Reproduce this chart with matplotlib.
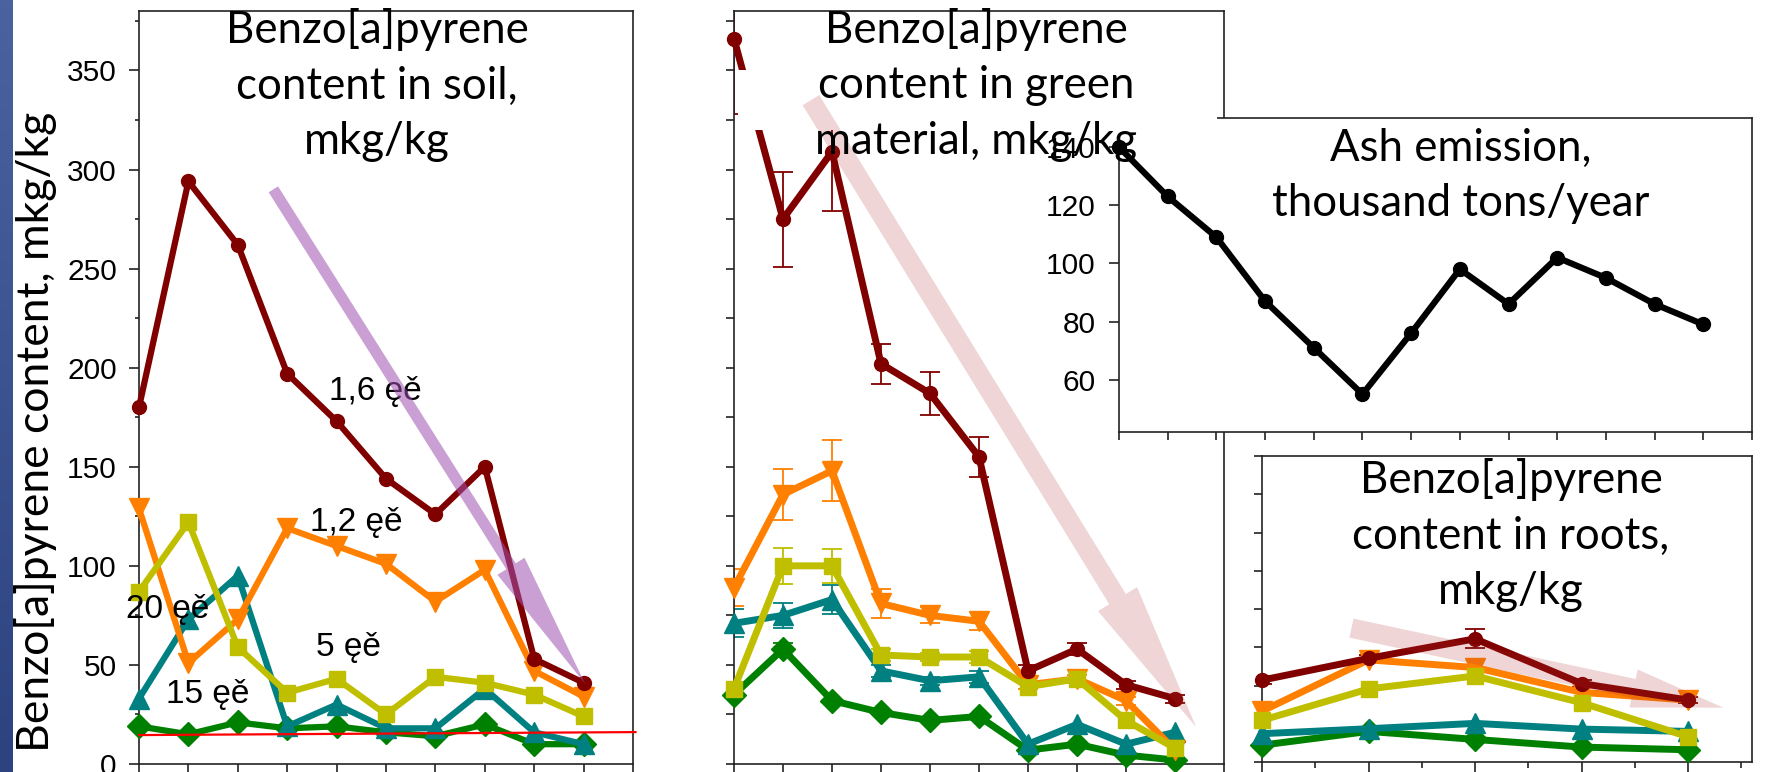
import numpy as np
import matplotlib
matplotlib.use("Agg")
import matplotlib.pyplot as plt
from matplotlib.patches import FancyArrowPatch, Rectangle, ArrowStyle
from matplotlib.ticker import MultipleLocator, NullFormatter
from matplotlib.colors import LinearSegmentedColormap

plt.rcParams['font.family'] = ['Liberation Sans', 'DejaVu Sans']
TITLE_FONT = ['Lato', 'DejaVu Sans']

W, H = 1767, 772  # output size in pixels

# ---------------- data ----------------
# soil, mkg/kg, 10 sampling points
soil_x = list(range(10))
soil_16 = [180, 294, 262, 197, 173, 144, 126, 150, 53, 41]   # dark red
soil_12 = [129, 51, 73, 119, 110, 101, 82, 98, 47, 34]       # orange
soil_20 = [87, 122, 59, 36, 43, 25, 44, 41, 35, 24]          # yellow
soil_5 = [33, 73, 95, 19, 30, 18, 18, 38, 16, 10]            # teal
soil_15 = [19, 15, 21, 18, 19, 16, 14, 20, 10, 10]           # green
soil_limit = [14.6, 16.1]                                    # red reference line
soil_labels = ["1,6 ęě", "1,2 ęě", "20 ęě", "5 ęě", "15 ęě"]
soil_label_pos = [(4.78, 188), (4.4, 122), (0.57, 78), (4.24, 59), (1.39, 35)]

# green material, mkg/kg
green_x = list(range(10))
green_16 = [366, 275, 309, 202, 187, 155, 47, 58, 40, 33]
green_12 = [89, 136, 148, 81, 75, 72, 40, 43, 32, 7]
green_20 = [38, 100, 100, 55, 54, 54, 39, 43, 22, 8]
green_5 = [71, 75, 83, 47, 42, 44, 10, 20, 10, 16]
green_15 = [35, 58, 32, 26, 22, 24, 7, 10, 4.5, 2]
green_16_err = [38, 24, 30, 10, 11, 10, 3, 3, 2, 2]
green_12_err = [9.5, 13, 15.5, 7.5, 4, 4.5, 2, 2, 2, 0]
green_20_err = [0, 9, 8.5, 3, 2, 3, 0, 0, 0, 0]
green_5_err = [7, 6.5, 7.5, 3, 2, 3, 0, 0, 0, 0]
green_15_err = [0, 3, 0, 0, 0, 0, 0, 0, 0, 0]

# roots, mkg/kg
roots_x = [0, 1, 2, 3, 4]
roots_16 = [21.4, 27.1, 32.2, 20.5, 16.2]
roots_12 = [13.3, 26.7, 24.7, 18.2, 16.2]
roots_20 = [10.9, 19.1, 22.5, 15.5, 6.6]
roots_5 = [7.4, 8.7, 10.1, 8.6, 8.0]
roots_15 = [4.4, 8.0, 5.9, 3.9, 3.2]
roots_16_err = [1.0, 0.8, 2.5, 1.0, 0.8]

# ash emission, thousand tons/year
ash_x = list(range(13))
ash = [140, 123, 109, 87, 71, 55, 76, 98, 86, 102, 95, 86, 79]

titles = ["Benzo[a]pyrene\ncontent in soil,\nmkg/kg",
          "Benzo[a]pyrene\ncontent in green\nmaterial, mkg/kg",
          "Ash emission,\nthousand tons/year",
          "Benzo[a]pyrene\ncontent in roots,\nmkg/kg"]
ylabel = "Benzo[a]pyrene content, mkg/kg"

# series styles (bottom to top drawing order)
order = ["15", "5", "12", "20", "16"]
colors = {"16": "#800000", "12": "#FF8000", "20": "#BFBF00", "5": "#008080", "15": "#008000"}
markers = {"16": "o", "12": "v", "20": "s", "5": "^", "15": "D"}
msize = {"16": 10, "12": 14, "20": 12, "5": 14, "15": 12}


def px_box(l, t, r, b):
    return [l / W, (H - b) / H, (r - l) / W, (b - t) / H]


def style_axis(ax):
    for s in ax.spines.values():
        s.set_linewidth(1.2)
        s.set_color("#222222")
    ax.tick_params(which="both", direction="out", width=1.2, color="#222222")


def trend_arrow(ax, p0, p1, color, alpha, tail, head_w, head_l):
    st = ArrowStyle.Simple(head_length=head_l, head_width=head_w, tail_width=tail)
    a = FancyArrowPatch(p0, p1, arrowstyle=st, color=color, alpha=alpha, lw=0,
                        shrinkA=0, shrinkB=0, mutation_scale=1, zorder=6, clip_on=False)
    ax.add_patch(a)


def draw_series(ax, x, data, errs, lw):
    for k in order:
        ax.plot(x, data[k], color=colors[k], marker=markers[k], ms=msize[k],
                lw=lw, zorder=3, clip_on=False)
        e = errs.get(k)
        if e is not None:
            e = np.array(e, dtype=float)
            m = e > 0
            ax.errorbar(np.array(x)[m], np.array(data[k])[m], yerr=e[m], fmt="none",
                        ecolor=colors[k], elinewidth=1.3, capsize=7, capthick=1.3,
                        zorder=2.5)


fig = plt.figure(figsize=(W / 100, H / 100), dpi=100)

# blue slide stripe on the left
ax_b = fig.add_axes([0, 0, 12 / W, 1])
ax_b.imshow(np.linspace(0, 1, 100).reshape(-1, 1), aspect="auto",
            cmap=LinearSegmentedColormap.from_list("st", ["#4A63A0", "#2C4380"]))
ax_b.axis("off")

# ---------------- soil ----------------
ax_s = fig.add_axes(px_box(139, 11, 633, 764), zorder=0)
soil = {"16": soil_16, "12": soil_12, "20": soil_20, "5": soil_5, "15": soil_15}
draw_series(ax_s, soil_x, soil, {}, 4.5)
ax_s.plot([0, 10.05], soil_limit, color="#FF0000", lw=1.6, zorder=4, clip_on=False)
ax_s.set_xlim(0, 10)
ax_s.set_ylim(0, 380)
ax_s.yaxis.set_major_locator(MultipleLocator(50))
ax_s.yaxis.set_minor_locator(MultipleLocator(25))
ax_s.xaxis.set_major_locator(MultipleLocator(1))
ax_s.xaxis.set_major_formatter(NullFormatter())
style_axis(ax_s)
ax_s.tick_params(axis="y", which="major", length=7, labelsize=21.5, pad=9)
ax_s.tick_params(axis="y", which="minor", length=3)
ax_s.tick_params(axis="x", length=5.5)
for lab, (lx, ly) in zip(soil_labels, soil_label_pos):
    ax_s.text(lx, ly, lab, fontsize=24, ha="center", va="center", zorder=5)
trend_arrow(ax_s, (2.72, 290), (9.03, 40.5), "#A050B0", 0.55, 8, 23, 100)

# ---------------- green material ----------------
ax_g = fig.add_axes(px_box(734, 11, 1224, 764), zorder=0.1)
green = {"16": green_16, "12": green_12, "20": green_20, "5": green_5, "15": green_15}
green_err = {"16": green_16_err, "12": green_12_err, "20": green_20_err,
             "5": green_5_err, "15": green_15_err}
draw_series(ax_g, green_x, green, green_err, 5)
ax_g.set_xlim(0, 10)
ax_g.set_ylim(0, 380)
ax_g.yaxis.set_major_locator(MultipleLocator(25))
ax_g.yaxis.set_major_formatter(NullFormatter())
ax_g.xaxis.set_major_locator(MultipleLocator(1))
ax_g.xaxis.set_major_formatter(NullFormatter())
style_axis(ax_g)
ax_g.tick_params(axis="y", length=6)
ax_g.tick_params(axis="x", length=5.5)
# white patch behind the title that hides part of the first line segment
ax_g.add_patch(Rectangle((738, H - 130), 484, 60, transform=None,
                         facecolor="white", edgecolor="none", zorder=4))
trend_arrow(ax_g, (1.57, 335), (9.43, 18.7), "#B03030", 0.2, 14, 33, 108)

# ---------------- ash emission ----------------
ax_a = fig.add_axes(px_box(1119, 118, 1752, 432), zorder=0.2)
ax_a.set_facecolor("white")
ax_a.plot(ash_x, ash, color="black", lw=4.5, marker="o", ms=10, clip_on=False, zorder=3)
ax_a.set_xlim(0, 13)
ax_a.set_ylim(42, 150)
ax_a.set_yticks([60, 80, 100, 120, 140])
ax_a.xaxis.set_major_locator(MultipleLocator(1))
ax_a.xaxis.set_major_formatter(NullFormatter())
style_axis(ax_a)
ax_a.tick_params(axis="y", length=7, labelsize=21.5, pad=10)
ax_a.tick_params(axis="x", length=6)

# ---------------- roots ----------------
ax_r = fig.add_axes(px_box(1262, 456, 1752, 762), zorder=0.3)
ax_r.set_facecolor("white")
roots = {"16": roots_16, "12": roots_12, "20": roots_20, "5": roots_5, "15": roots_15}
draw_series(ax_r, roots_x, roots, {"16": roots_16_err}, 5)
ax_r.set_xlim(0, 4.6)
ax_r.set_ylim(0, 80)
ax_r.xaxis.set_major_locator(MultipleLocator(1))
ax_r.xaxis.set_minor_locator(MultipleLocator(0.5))
ax_r.xaxis.set_major_formatter(NullFormatter())
ax_r.yaxis.set_major_locator(MultipleLocator(10))
ax_r.yaxis.set_major_formatter(NullFormatter())
style_axis(ax_r)
ax_r.tick_params(axis="x", which="major", length=8)
ax_r.tick_params(axis="x", which="minor", length=4)
ax_r.tick_params(axis="y", length=6)
trend_arrow(ax_r, (0.84, 35), (4.33, 14.2), "#B03030", 0.2, 14, 28, 66)

# white patch that hides the top-left corner of the ash chart frame
fig.patches.append(Rectangle((1108 / W, (H - 138) / H), 109 / W, 26 / H,
                             transform=fig.transFigure, facecolor="white",
                             edgecolor="none", zorder=1))

# ---------------- titles ----------------
title_pos = [(377, 85), (976, 85), (1461, 176), (1511, 535)]
for t, (cx, cy) in zip(titles, title_pos):
    fig.text(cx / W, (H - cy) / H, t, fontsize=31.5, family=TITLE_FONT,
             ha="center", va="center", multialignment="center",
             linespacing=1.45, zorder=3)

fig.text(36 / W, (H - 432) / H, ylabel, fontsize=32, family=TITLE_FONT,
         rotation=90, ha="center", va="center", zorder=3)

fig.savefig("out.png", dpi=100)
